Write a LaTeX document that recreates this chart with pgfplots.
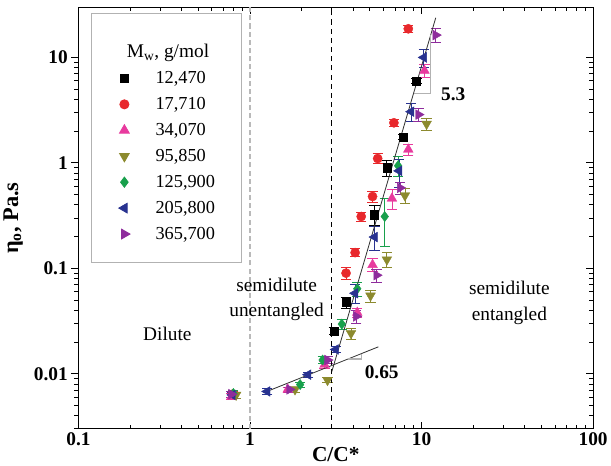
\documentclass[border=0pt]{standalone}
\usepackage{fontspec}
\setmainfont{Liberation Serif}
\usepackage{pgfplots}
\pgfplotsset{compat=1.18}

\definecolor{cred}{HTML}{E8282C}
\definecolor{cpink}{HTML}{E83A9E}
\definecolor{colive}{HTML}{8C8A2E}
\definecolor{cgreen}{HTML}{18A04C}
\definecolor{cblue}{HTML}{283290}
\definecolor{cpurple}{HTML}{8E2C9C}

\pgfplotsset{
  errs/.style={error bars/.cd, y dir=both, y explicit,
    error bar style={line width=0.8bp},
    error mark options={rotate=90, mark size=5bp, line width=0.8bp}},
}

\begin{document}
\begin{tikzpicture}[font=\fontsize{19}{25}\selectfont]
\begin{axis}[
  scale only axis, width=504bp, height=413bp,
  xmode=log, ymode=log,
  xmin=0.1, xmax=100, ymin=0.003, ymax=30,
  log ticks with fixed point,
  /pgf/number format/assume math mode=true,
  ticklabel style={font=\fontsize{19}{22}\selectfont\bfseries},
  xtick align=inside, ytick align=outside,
  xtick pos=both, ytick pos=left,
  major tick length=7bp, minor tick length=4bp,
  every tick/.style={black, line width=0.9bp},
  axis line style={line width=1.1bp},
  xlabel={\bfseries C/C*},
  ylabel={\bfseries η\textsubscript{o}, Pa.s},
  xlabel style={font=\fontsize{21}{24}\selectfont, yshift=5bp},
  ylabel style={font=\fontsize{22}{24}\selectfont, yshift=4bp},
  legend cell align=left,
  legend style={at={(0.024,0.985)}, anchor=north west,
    draw=gray!60, line width=0.8bp, row sep=8bp,
    inner xsep=24bp, inner ysep=19bp,
    font=\fontsize{18}{21}\selectfont},
  /tikz/every odd column/.append style={column sep=23bp},
]
\addlegendimage{empty legend}
\addlegendentry{\rule{0pt}{22bp}\hspace{-28bp}{\fontsize{19}{21}\selectfont M\textsubscript{w}, g/mol}}

% 12,470
\addplot[only marks, mark=square*, black, mark size=4bp, errs] coordinates {
  (3.08,0.0255) +- (0,0.002)
  (3.63,0.0475) +- (0,0.006)
  (5.32,0.323) +- (0,0.07)
  (6.28,0.90) +- (0,0.15)
  (7.81,1.76) +- (0,0.1)
  (9.34,5.99) +- (0,0.3)
};
\addlegendentry{12,470}
% 17,710
\addplot[only marks, mark=*, cred, mark size=4.5bp, errs] coordinates {
  (0.79,0.0064) +- (0,0.0004)
  (3.63,0.090) +- (0,0.012)
  (4.10,0.141) +- (0,0.012)
  (4.45,0.31) +- (0,0.03)
  (5.18,0.48) +- (0,0.06)
  (5.55,1.10) +- (0,0.12)
  (6.9,2.4) +- (0,0.2)
  (8.37,18.7) +- (0,1.5)
};
\addlegendentry{17,710}
% 34,070
\addplot[only marks, mark=triangle*, cpink, mark size=5.5bp, errs] coordinates {
  (0.78,0.0061) +- (0,0.0004)
  (1.66,0.0071) +- (0,0.0004)
  (2.72,0.0122) +- (0,0.001)
  (4.22,0.038) +- (0,0.004)
  (5.18,0.108) +- (0,0.015)
  (6.72,0.46) +- (0,0.1)
  (8.37,1.34) +- (0,0.15)
  (10.4,7.5) +- (0,1.0)
};
\addlegendentry{34,070}
% 95,850
\addplot[only marks, mark=triangle*, mark options={rotate=180}, colive, mark size=5.5bp, errs] coordinates {
  (0.83,0.0063) +- (0,0.0004)
  (1.83,0.0071) +- (0,0.0004)
  (2.83,0.0087) +- (0,0.0005)
  (3.88,0.0242) +- (0,0.003)
  (5.04,0.055) +- (0,0.007)
  (6.28,0.121) +- (0,0.02)
  (8.0,0.49) +- (0,0.08)
  (10.7,2.34) +- (0,0.3)
};
\addlegendentry{95,850}
% 125,900
\addplot[only marks, mark=diamond*, cgreen, mark size=5bp, errs] coordinates {
  (0.80,0.0065) +- (0,0.0004)
  (1.96,0.0079) +- (0,0.0004)
  (2.65,0.0135) +- (0,0.001)
  (3.43,0.0296) +- (0,0.003)
  (4.22,0.064) +- (0,0.01)
  (6.1,0.31) +- (0,0.15)
  (7.3,0.94) +- (0,0.2)
};
\addlegendentry{125,900}
% 205,800
\addplot[only marks, mark=triangle*, mark options={rotate=90}, cblue, mark size=5.5bp, errs] coordinates {
  (0.79,0.0063) +- (0,0.0004)
  (1.26,0.0068) +- (0,0.0004)
  (2.18,0.0098) +- (0,0.0006)
  (3.16,0.017) +- (0,0.001)
  (4.10,0.058) +- (0,0.012)
  (5.32,0.198) +- (0,0.05)
  (7.4,0.84) +- (0,0.25)
  (8.7,3.06) +- (0,0.6)
  (10.3,10.0) +- (0,2.0)
};
\addlegendentry{205,800}
% 365,700
\addplot[only marks, mark=triangle*, mark options={rotate=-90}, cpurple, mark size=5.5bp, errs] coordinates {
  (0.78,0.0064) +- (0,0.0004)
  (1.70,0.0071) +- (0,0.0004)
  (2.83,0.0135) +- (0,0.001)
  (4.16,0.035) +- (0,0.005)
  (5.47,0.086) +- (0,0.012)
  (7.5,0.58) +- (0,0.08)
  (9.6,2.87) +- (0,0.4)
  (12.1,16.3) +- (0,2.5)
};
\addlegendentry{365,700}

% boundaries
\addplot[gray!55, line width=1.6bp, dash pattern=on 5bp off 3bp, forget plot] coordinates {(1,0.003) (1,30)};
\addplot[black, line width=1.1bp, dash pattern=on 5bp off 4bp, forget plot] coordinates {(3,0.003) (3,30)};
% fits
\addplot[black!80, line width=0.8bp, forget plot] coordinates {(1.2,0.0066) (5.6,0.018)};
\addplot[black!80, line width=0.8bp, forget plot] coordinates {(3.0,0.0105) (12.1,23.8)};
% slope triangles
\addplot[gray!60, line width=1.3bp, forget plot] coordinates {(8.99,4.58) (11.3,4.58) (11.3,16.3)};
\addplot[gray!60, line width=1.0bp, forget plot] coordinates {(3.73,0.0138) (4.45,0.0138) (4.45,0.0155)};

\node[font=\fontsize{19}{22}\selectfont\bfseries] at (axis cs:15.3,4.48) {5.3};
\node[font=\fontsize{19}{22}\selectfont\bfseries] at (axis cs:5.86,0.0104) {0.65};
\node at (axis cs:0.33,0.0238) {Dilute};
\node[align=center] at (axis cs:1.43,0.0508) {semidilute\\unentangled};
\node[align=center] at (axis cs:32.5,0.047) {semidilute\\entangled};
\end{axis}
\begin{axis}[
  scale only axis, width=504bp, height=413bp,
  xmode=log, ymode=log,
  xmin=0.1, xmax=100, ymin=0.003, ymax=30,
  xtick=\empty, ytick pos=right, ytick align=inside,
  yticklabels={},
  major tick length=7bp, minor tick length=4bp,
  every tick/.style={black, line width=0.9bp},
  axis line style={draw=none},
]
\end{axis}
% a little room above the frame
\path (0,413bp) ++(0,7bp);
\end{tikzpicture}
\end{document}
